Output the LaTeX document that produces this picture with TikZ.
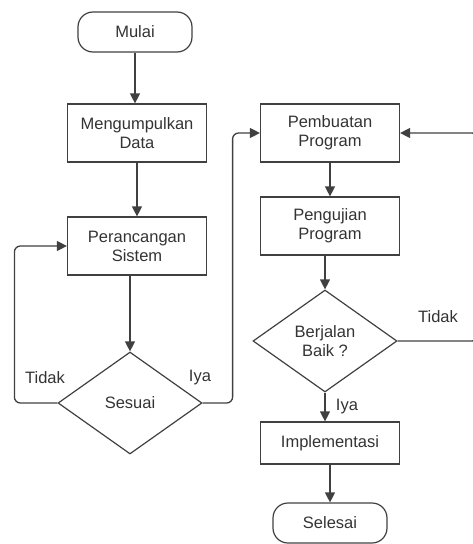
\documentclass[tikz,border=0pt]{standalone}
\usepackage{fontspec}
\setmainfont{Liberation Sans}
\usetikzlibrary{arrows.meta, positioning, shapes.geometric}

\begin{document}
\begin{tikzpicture}[x=1pt, y=-1pt, font=\fontsize{16.5}{19}\selectfont,
    garis/.style={draw=black!75, line width=1.3pt},
    panah/.style={garis, -{Triangle[length=10pt, width=10pt]}},
    terminal/.style={draw=black!75, line width=1.2pt, rectangle, rounded corners=15pt,
        minimum width=114pt, minimum height=40pt, text=black!80},
    proses/.style={draw=black!75, line width=1.2pt, rectangle, minimum width=139pt,
        minimum height=58pt, align=center, text=black!80, inner sep=2pt},
    keputusan/.style={draw=black!75, line width=1.2pt, diamond, minimum width=144pt,
        minimum height=102pt, inner sep=0pt, align=center, text=black!80},
    ket/.style={text=black!80}]
    \useasboundingbox (0,0) rectangle (473,544);
    % kolom kiri
    \node[terminal] (mulai) at (135,32) {Mulai};
    \node[proses] (kumpul) at (137,133) {Mengumpulkan\\Data};
    \node[proses] (rancang) at (137,246) {Perancangan\\Sistem};
    \node[keputusan] (sesuai) at (130,403) {Sesuai};
    % kolom kanan
    \node[proses] (buat) at (330,133) {Pembuatan\\Program};
    \node[proses] (uji) at (330,226) {Pengujian\\Program};
    \node[keputusan] (jalan) at (325,341) {Berjalan\\Baik ?};
    \node[proses, minimum height=42pt] (impl) at (330,443) {Implementasi};
    \node[terminal] (selesai) at (330,523) {Selesai};
    \coordinate (ujung) at (478,341);

    \draw[panah] (mulai.south) -- (mulai.south |- kumpul.north);
    \draw[panah] (kumpul) -- (rancang);
    \draw[panah] (rancang.south -| sesuai.north) -- (sesuai.north);
    \draw[panah, rounded corners=6pt] (sesuai.west) -- ++(-43,0) |- (rancang.west);
    \draw[panah, rounded corners=6pt] (sesuai.east) -- ++(30,0) |- (buat.west);
    \draw[panah] (buat.south -| uji.north) -- (uji.north);
    \draw[panah] (uji.south -| jalan.north) -- (jalan.north);
    \draw[panah] (jalan.south) -- (jalan.south |- impl.north);
    \draw[panah] (impl) -- (selesai);
    \draw[panah, rounded corners=6pt] (jalan.east) -- (ujung) |- (buat.east);

    \node[ket] (tidak1) at (45,378) {Tidak};
    \node[ket] (iya1) at (200,378) {Iya};
    \node[ket] (tidak2) at (438,317) {Tidak};
    \node[ket] (iya2) at (347,407) {Iya};
\end{tikzpicture}
\end{document}
